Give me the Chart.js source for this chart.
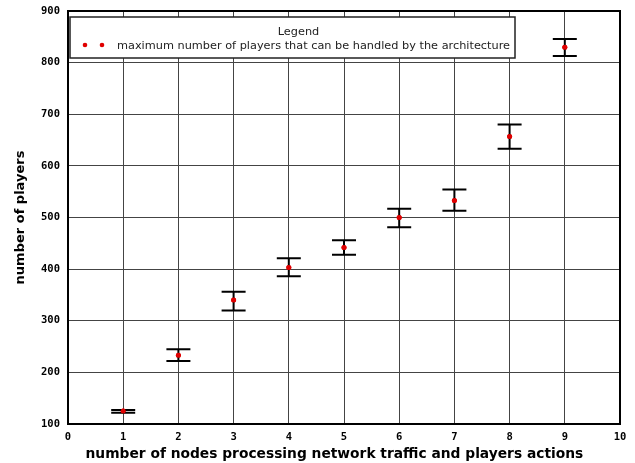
<!DOCTYPE html>
<html>
<head>
<meta charset="utf-8">
<script src="https://cdn.jsdelivr.net/npm/chart.js@4/dist/chart.umd.min.js"></script>
<style>
html,body{margin:0;padding:0;background:#fff;}
#wrap{width:635px;height:463px;position:relative;}
</style>
</head>
<body>
<div id="wrap"><canvas id="c" width="635" height="463"></canvas></div>
<script>
const nodes = [1, 2, 3, 4, 5, 6, 7, 8, 9];
const players = [125, 233, 340, 403, 442, 500, 533, 657, 830];
const errLow = [122, 222, 320, 386, 428, 481, 513, 633, 813];
const errHigh = [127, 245, 356, 421, 456, 517, 554, 680, 846];
const xTicks = [0,1,2,3,4,5,6,7,8,9,10];
const yTicks = [100,200,300,400,500,600,700,800,900];
const legendTitle = 'Legend';
const seriesLabel = 'maximum number of players that can be handled by the architecture';
const xTitle = 'number of nodes processing network traffic and players actions';
const yTitle = 'number of players';

const errorBars = {
  id: 'errorBars',
  afterDatasetsDraw(chart) {
    const {ctx, scales: {x, y}} = chart;
    ctx.save();
    ctx.strokeStyle = '#000';
    ctx.lineWidth = 2;
    nodes.forEach((n, i) => {
      const px = x.getPixelForValue(n);
      const lo = y.getPixelForValue(errLow[i]);
      const hi = y.getPixelForValue(errHigh[i]);
      ctx.beginPath();
      ctx.moveTo(px, lo); ctx.lineTo(px, hi);
      ctx.moveTo(px - 12, lo); ctx.lineTo(px + 12, lo);
      ctx.moveTo(px - 12, hi); ctx.lineTo(px + 12, hi);
      ctx.stroke();
    });
    ctx.restore();
    const meta = chart.getDatasetMeta(0);
    meta.data.forEach(p => p.draw(ctx));
  }
};

const frameAndLegend = {
  id: 'frameAndLegend',
  afterDraw(chart) {
    const {ctx, chartArea: a} = chart;
    ctx.save();
    ctx.strokeStyle = '#000';
    ctx.lineWidth = 2;
    ctx.strokeRect(a.left, a.top, a.right - a.left, a.bottom - a.top);
    const bx = 70, by = 17, bw = 445, bh = 41;
    ctx.fillStyle = '#fff';
    ctx.fillRect(bx, by, bw, bh);
    ctx.lineWidth = 1.5;
    ctx.strokeStyle = '#222';
    ctx.strokeRect(bx, by, bw, bh);
    ctx.fillStyle = '#222';
    ctx.font = '11.3px "DejaVu Sans"';
    ctx.textAlign = 'center';
    ctx.textBaseline = 'middle';
    ctx.fillText(legendTitle, bx + bw / 2 + 6, by + 15);
    ctx.textAlign = 'left';
    ctx.fillText(seriesLabel, 117, by + 29);
    ctx.fillStyle = '#e00000';
    [85, 102].forEach(cx => { ctx.beginPath(); ctx.arc(cx, by + 28, 2.3, 0, Math.PI * 2); ctx.fill(); });
    ctx.restore();
  }
};

new Chart(document.getElementById('c'), {
  type: 'scatter',
  data: {
    datasets: [{
      label: seriesLabel,
      data: nodes.map((n, i) => ({x: n, y: players[i]})),
      pointRadius: 2.5,
      pointBackgroundColor: '#e00000',
      pointBorderColor: '#e00000',
      pointBorderWidth: 0,
      showLine: false
    }]
  },
  options: {
    responsive: false,
    animation: false,
    layout: {padding: {top: 11, right: 15, left: 0, bottom: 0}},
    plugins: {legend: {display: false}, tooltip: {enabled: false}},
    scales: {
      x: {
        type: 'linear', min: 0, max: 10,
        afterBuildTicks: s => { s.ticks = xTicks.map(v => ({value: v})); },
        afterFit: s => { s.height = 39; },
        grid: {color: '#444', lineWidth: 1, drawTicks: false},
        border: {color: '#000', width: 2},
        ticks: {color: '#000', font: {family: 'DejaVu Sans Mono', size: 10.5, weight: 'bold'}, padding: 7, maxRotation: 0},
        title: {display: true, text: xTitle + '\u00a0\u00a0\u00a0\u00a0', color: '#000', font: {family: 'DejaVu Sans', size: 13.8, weight: 'bold'}, padding: {top: 0, bottom: 0}}
      },
      y: {
        type: 'linear', min: 100, max: 900,
        afterBuildTicks: s => { s.ticks = yTicks.map(v => ({value: v})); },
        afterFit: s => { s.width = 68; s.paddingTop = 0; s.paddingBottom = 0; },
        grid: {color: '#444', lineWidth: 1, drawTicks: false},
        border: {color: '#000', width: 2},
        ticks: {color: '#000', font: {family: 'DejaVu Sans Mono', size: 10.5, weight: 'bold'}, padding: 8},
        title: {display: true, text: yTitle, color: '#000', font: {family: 'DejaVu Sans', size: 13, weight: 'bold'}, padding: {top: 13, bottom: 0}}
      }
    }
  },
  plugins: [errorBars, frameAndLegend]
});
</script>
</body>
</html>
